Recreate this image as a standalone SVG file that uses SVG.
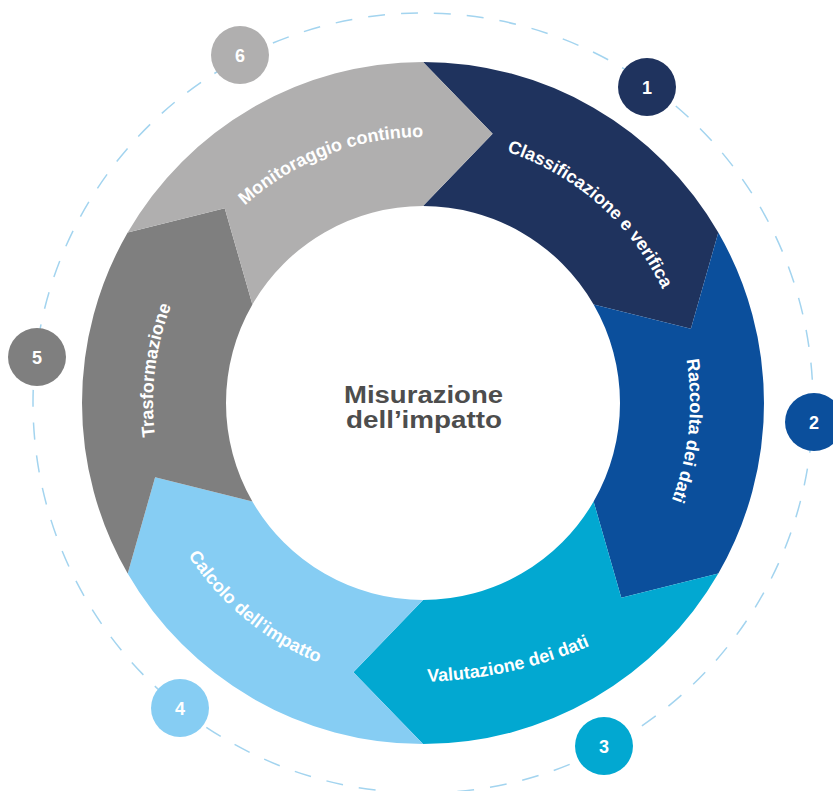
<svg xmlns="http://www.w3.org/2000/svg" width="833" height="791" viewBox="0 0 833 791">
  <style>
    .seg-label { font-family: "Liberation Sans", Arial, sans-serif; font-weight: bold; font-size: 18px; fill: #ffffff; }
    .num { font-family: "Liberation Sans", Arial, sans-serif; font-weight: bold; font-size: 18px; fill: #ffffff; text-anchor: middle; }
    .title { font-family: "Liberation Sans", Arial, sans-serif; font-weight: bold; font-size: 23px; fill: #4d4d4d; text-anchor: middle; }
    .orbit { fill: none; stroke: #a3d4ef; stroke-width: 1.5; stroke-dasharray: 17 16; }
  </style>
  <defs>
    <!-- baselines for the curved step labels (ring centre 423,403) -->
    <path id="p6" d="M 216.3 235.6 A 266 266 0 0 1 464.6 140.3"/>
    <path id="p1" d="M 464.5 141.3 A 265 265 0 0 1 677.7 330.0"/>
    <path id="p2" d="M 666.9 294.4 A 267 267 0 0 1 639.0 559.9"/>
    <path id="p3" d="M 319.4 672.2 A 450 450 0 0 0 683.8 591.4"/>
    <path id="p4" d="M 159.9 498.8 A 280 280 0 0 0 379.2 679.6"/>
    <path id="p5" d="M 174.5 508.5 A 270 270 0 0 1 207.4 240.5"/>
  </defs>

  <rect width="833" height="791" fill="#ffffff"/>

  <!-- dashed orbit carrying the step numbers -->
  <g id="connectors">
    <circle class="orbit" cx="423" cy="403" r="390"/>
  </g>

  <!-- ring of chevron segments -->
  <g id="step-1">
    <path fill="#1f335e" d="M 423 62 A 341 341 0 0 1 718.31 232.5 L 690.89 328.71 L 593.61 304.5 A 197 197 0 0 0 423 206 L 492.61 133.85 Z"/>
    <text class="seg-label"><textPath href="#p1" startOffset="50%" text-anchor="middle">Classificazione e verifica</textPath></text>
    <circle cx="647" cy="87" r="29" fill="#1f335e"/>
    <text class="num" x="647" y="93.5">1</text>
  </g>
  <g id="step-2">
    <path fill="#0b4f9c" d="M 718.31 232.5 A 341 341 0 0 1 718.31 573.5 L 621.28 597.85 L 593.61 501.5 A 197 197 0 0 0 593.61 304.5 L 690.89 328.71 Z"/>
    <text class="seg-label"><textPath href="#p2" startOffset="50%" text-anchor="middle">Raccolta dei dati</textPath></text>
    <circle cx="814" cy="422" r="29" fill="#0b4f9c"/>
    <text class="num" x="814" y="428.5">2</text>
  </g>
  <g id="step-3">
    <path fill="#02a8d1" d="M 718.31 573.5 A 341 341 0 0 1 423 744 L 353.39 672.15 L 423 600 A 197 197 0 0 0 593.61 501.5 L 621.28 597.85 Z"/>
    <text class="seg-label"><textPath href="#p3" startOffset="50%" text-anchor="middle">Valutazione dei dati</textPath></text>
    <circle cx="604" cy="746" r="29" fill="#02a8d1"/>
    <text class="num" x="604" y="752.5">3</text>
  </g>
  <g id="step-4">
    <path fill="#86cdf3" d="M 423 744 A 341 341 0 0 1 127.69 573.5 L 155.11 477.29 L 252.39 501.5 A 197 197 0 0 0 423 600 L 353.39 672.15 Z"/>
    <text class="seg-label"><textPath href="#p4" startOffset="50%" text-anchor="middle">Calcolo dell’impatto</textPath></text>
    <circle cx="180" cy="708" r="29" fill="#86cdf3"/>
    <text class="num" x="180" y="714.5">4</text>
  </g>
  <g id="step-5">
    <path fill="#7f7f7f" d="M 127.69 573.5 A 341 341 0 0 1 127.69 232.5 L 224.72 208.15 L 252.39 304.5 A 197 197 0 0 0 252.39 501.5 L 155.11 477.29 Z"/>
    <text class="seg-label"><textPath href="#p5" startOffset="50%" text-anchor="middle">Trasformazione</textPath></text>
    <circle cx="37" cy="357" r="29" fill="#7f7f7f"/>
    <text class="num" x="37" y="363.5">5</text>
  </g>
  <g id="step-6">
    <path fill="#b0afaf" d="M 127.69 232.5 A 341 341 0 0 1 423 62 L 492.61 133.85 L 423 206 A 197 197 0 0 0 252.39 304.5 L 224.72 208.15 Z"/>
    <text class="seg-label"><textPath href="#p6" startOffset="50%" text-anchor="middle">Monitoraggio continuo</textPath></text>
    <circle cx="240" cy="55" r="29" fill="#b0afaf"/>
    <text class="num" x="240" y="61.5">6</text>
  </g>

  <!-- centre title -->
  <g id="title">
    <text class="title" x="423.5" y="403" textLength="159" lengthAdjust="spacingAndGlyphs">Misurazione</text>
    <text class="title" x="424" y="428" textLength="156" lengthAdjust="spacingAndGlyphs">dell’impatto</text>
  </g>
</svg>
